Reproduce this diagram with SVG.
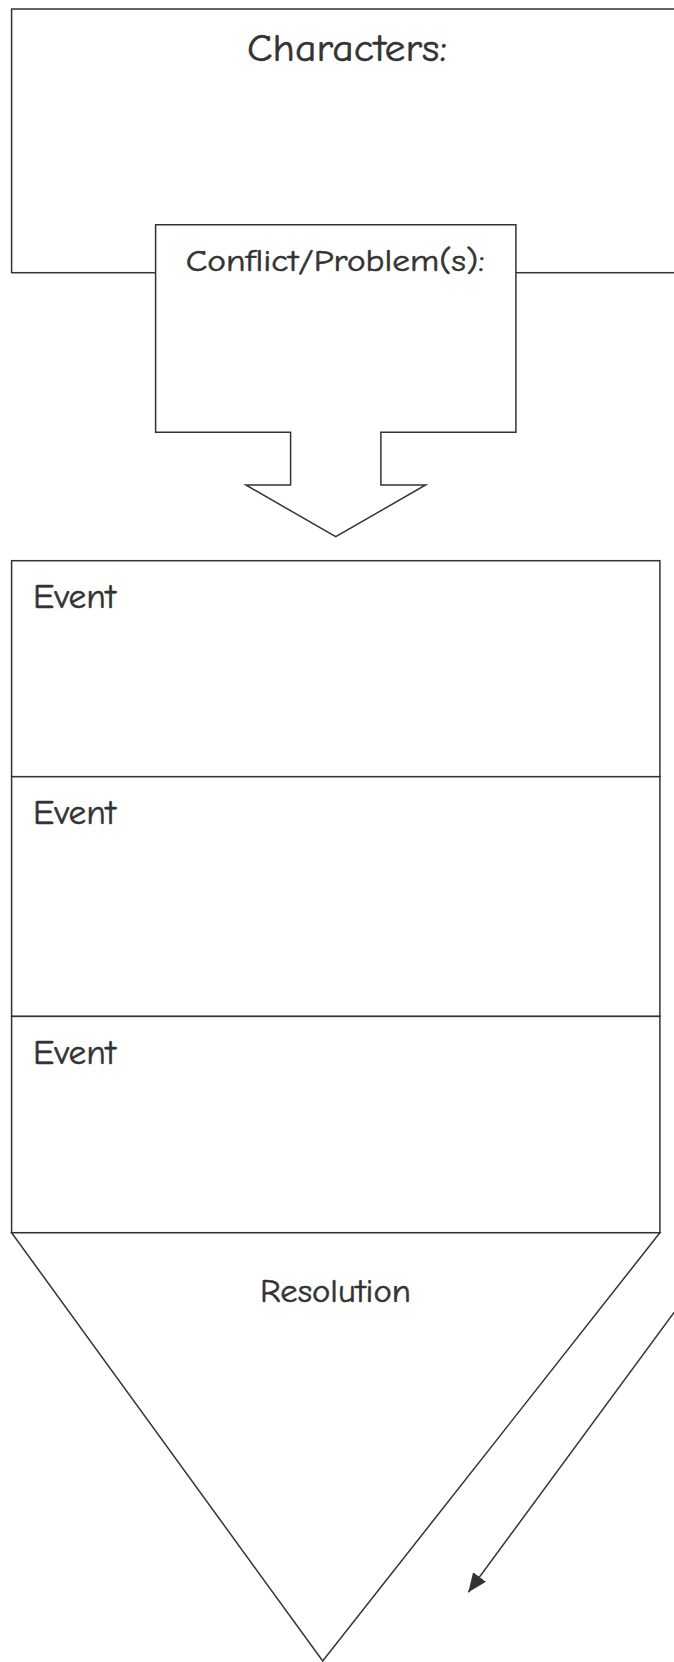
<svg xmlns="http://www.w3.org/2000/svg" width="674" height="1662" viewBox="0 0 674 1662">
<style>
.shape{fill:#fff;stroke:#333;stroke-width:1.5}
.lbl{font-family:"Comic Sans MS","Comic Neue","Liberation Sans",sans-serif;fill:#333;stroke:#333;stroke-width:0.5}
.conn{fill:none;stroke:#333;stroke-width:1.5}
</style>
<defs>
<marker id="ah" markerWidth="20" markerHeight="16" refX="19" refY="8" orient="auto" markerUnits="userSpaceOnUse">
<path d="M0,0 L19,8 L0,16 Z" fill="#333"/>
</marker>
</defs>
<rect width="674" height="1662" fill="#fff"/>
<g id="characters">
<rect class="shape" x="11.6" y="9" width="700" height="263.7"/>
<text class="lbl" x="247" y="61" font-size="38" textLength="200" lengthAdjust="spacingAndGlyphs">Characters:</text>
</g>
<g id="conflict">
<polygon class="shape" points="155.6,224.7 515.9,224.7 515.9,432.3 380.9,432.3 380.9,485 425.6,485 335.75,536.7 245.9,485 290.6,485 290.6,432.3 155.6,432.3"/>
<text class="lbl" x="185.7" y="270.7" font-size="30" textLength="299" lengthAdjust="spacingAndGlyphs">Conflict/Problem(s):</text>
</g>
<g id="event1">
<rect class="shape" x="11.6" y="560.7" width="648.3" height="216"/>
<text class="lbl" x="33" y="608.3" font-size="35" textLength="83" lengthAdjust="spacingAndGlyphs">Event</text>
</g>
<g id="event2">
<rect class="shape" x="11.6" y="776.7" width="648.3" height="239.7"/>
<text class="lbl" x="33" y="824.3" font-size="35" textLength="83" lengthAdjust="spacingAndGlyphs">Event</text>
</g>
<g id="event3">
<rect class="shape" x="11.6" y="1016.4" width="648.3" height="216.3"/>
<text class="lbl" x="33" y="1064" font-size="35" textLength="83" lengthAdjust="spacingAndGlyphs">Event</text>
</g>
<g id="resolution">
<polygon class="shape" points="11.6,1232.7 659.9,1232.7 322.7,1661"/>
<text class="lbl" x="260" y="1301.7" font-size="32" textLength="151" lengthAdjust="spacingAndGlyphs">Resolution</text>
</g>
<g id="connectors">
<line class="conn" x1="720" y1="1250" x2="468.3" y2="1592.3" marker-end="url(#ah)"/>
</g>
</svg>
